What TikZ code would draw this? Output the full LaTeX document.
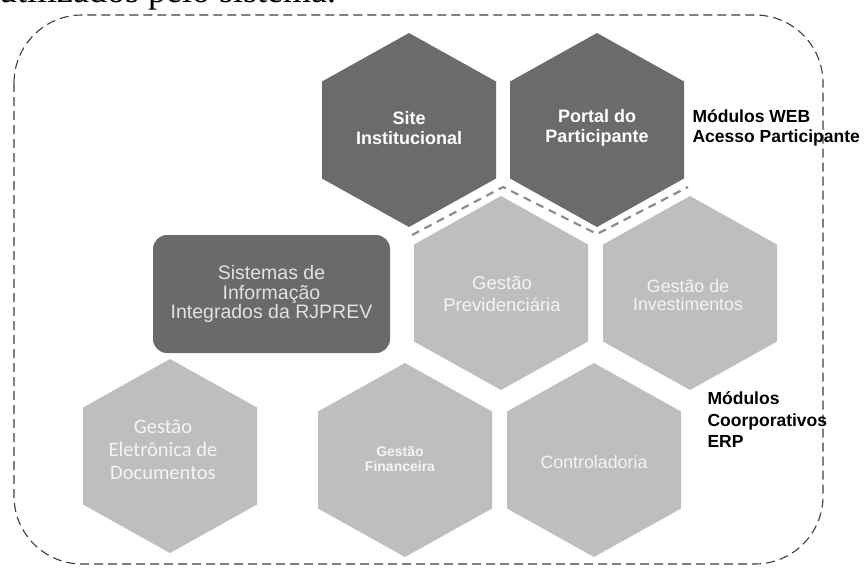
\documentclass[tikz,border=0pt]{standalone}
\usepackage{fontspec}
\setmainfont{Liberation Sans}
\newfontfamily\calibf{Carlito}
\newfontfamily\timesf{Liberation Serif}
\definecolor{hexdark}{HTML}{6B6B6B}
\definecolor{hexlight}{HTML}{BEBEBE}
\definecolor{boxdark}{HTML}{6A6A6A}
\definecolor{boxtext}{HTML}{E2E2E2}
\definecolor{hextext}{HTML}{F4F4F4}
\definecolor{borderc}{HTML}{3C3C3C}
\definecolor{seamc}{HTML}{8C8C8C}
\newcommand\hexpath[2]{(#1,#2-97) -- (#1+87,#2-48.5) -- (#1+87,#2+48.5) -- (#1,#2+97) -- (#1-87,#2+48.5) -- (#1-87,#2-48.5) -- cycle}
\begin{document}
\begin{tikzpicture}[x=1pt,y=-1pt,
  darktxt/.style={font=\bfseries\fontsize{18}{20}\selectfont, text=white, align=center},
  lighttxt/.style={font=\fontsize{18.5}{22}\selectfont, text=hextext, align=center},
  labeltxt/.style={font=\bfseries\fontsize{17.5}{20.5}\selectfont, text=black, align=left, anchor=west},
  frame/.style={draw=borderc, line width=1.1pt, dash pattern=on 9pt off 5pt, rounded corners=68pt},
  seam/.style={draw=seamc, line width=2.2pt, dash pattern=on 8pt off 6pt}]
\useasboundingbox (0,0) rectangle (866,568);
\clip (0,0) rectangle (866,568);
% clipped text at the top
\node[font=\timesf\fontsize{36}{36}\selectfont, anchor=base west, inner sep=0pt] (toptext) at (-1,2) {utilizados pelo sistema.};
% dashed frame
\draw[frame] (14,15) rectangle (823,564);
% hexagons
\fill[hexdark] \hexpath{409}{130};
\fill[hexdark] \hexpath{597}{130};
\fill[hexlight] \hexpath{501}{293};
\fill[hexlight] \hexpath{690}{293};
\fill[hexlight] \hexpath{405}{460};
\fill[hexlight] \hexpath{594}{460};
\fill[hexlight] \hexpath{170}{456};
% seam between web and ERP modules
\coordinate (s1) at (412,235);
\coordinate (s2) at (503,187);
\coordinate (s3) at (597,234);
\coordinate (s4) at (688,187);
\draw[seam] (s1) -- (s2) -- (s3) -- (s4);
% central box
\node[fill=boxdark, rounded corners=14pt, minimum width=237pt, minimum height=118pt, inner sep=0pt,
  text=boxtext, font=\fontsize{19.5}{19.5}\selectfont, align=center] (sis) at (271.5,294)
  {Sistemas de\\Informação\\Integrados da RJPREV};
% hexagon texts
\node[darktxt] (site) at (409,128) {Site\\Institucional};
\node[darktxt] (portal) at (597,128) {Portal do\\Participante};
\node[lighttxt] (prev) at (502,294) {Gestão\\Previdenciária};
\node[lighttxt, font=\fontsize{17.8}{17.5}\selectfont] (inv) at (688,295) {Gestão de\\Investimentos};
\node[lighttxt, font=\bfseries\fontsize{14}{15}\selectfont] (fin) at (400,459) {Gestão\\Financeira};
\node[lighttxt, font=\fontsize{17.8}{21}\selectfont] (cont) at (594,462) {Controladoria};
\node[lighttxt, font=\calibf\fontsize{20.5}{23}\selectfont] (ged) at (163,450) {Gestão\\Eletrônica de\\Documentos};
% side labels
\node[labeltxt] (web) at (689,128) {Módulos WEB\\Acesso Participante};
\node[labeltxt, font=\bfseries\fontsize{17.5}{21.5}\selectfont] (erp) at (704,420) {Módulos\\Coorporativos\\ERP};
\end{tikzpicture}
\end{document}
